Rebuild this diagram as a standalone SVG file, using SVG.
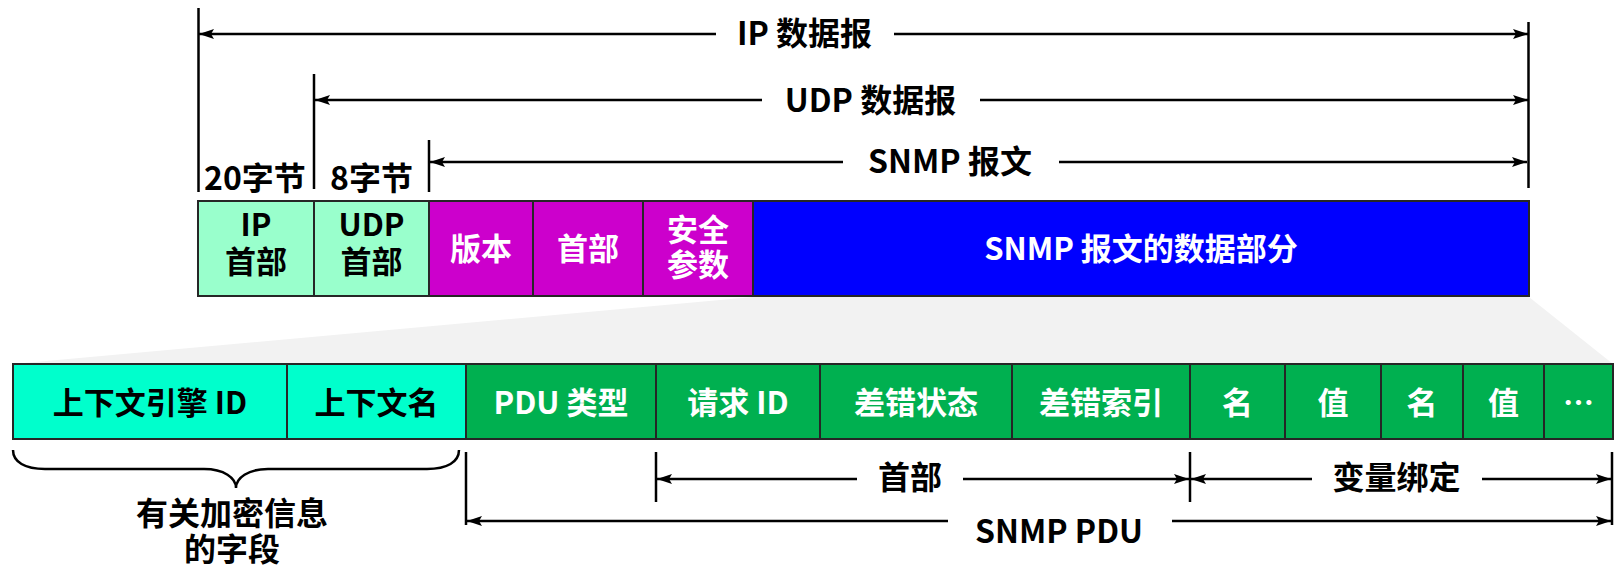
<svg xmlns="http://www.w3.org/2000/svg" width="1615" height="569" viewBox="0 0 1615 569">
<style>
text{font-family:"Noto Sans CJK SC","Noto Sans",sans-serif;font-weight:bold;text-anchor:middle}
.lbl{font-size:32px;fill:#000}
.bx{font-size:31px}
.w{fill:#fff}
.k{fill:#000}
.box{stroke:#262626;stroke-width:2}
.ln{stroke:#000;stroke-width:2.5;fill:none}
.ar{stroke:#000;stroke-width:2.5;fill:none;marker-end:url(#ah)}
.al{stroke:#000;stroke-width:2.5;fill:none;marker-start:url(#ah)}
</style>
<defs>
<marker id="ah" markerUnits="userSpaceOnUse" markerWidth="16" markerHeight="12" refX="15" refY="5" orient="auto-start-reverse">
<path d="M0,0 L15,5 L0,10 L3,5 Z" fill="#000"/>
</marker>
</defs>
<rect width="1615" height="569" fill="#fff"/>
<polygon points="753,297 1529,297 1613,364 13,364" fill="#f2f2f2"/>

<g id="top-row">
<g id="ip-header"><rect class="box" x="198" y="201" width="116" height="95" fill="#99ffcc"/><text class="bx k" x="256" y="236">IP</text><text class="bx k" x="256" y="273">首部</text></g>
<g id="udp-header"><rect class="box" x="314" y="201" width="115" height="95" fill="#99ffcc"/><text class="bx k" x="371.5" y="236">UDP</text><text class="bx k" x="371.5" y="273">首部</text></g>
<g id="version"><rect class="box" x="429" y="201" width="104" height="95" fill="#cc00cc"/><text class="bx w" x="481" y="260">版本</text></g>
<g id="header"><rect class="box" x="533" y="201" width="110" height="95" fill="#cc00cc"/><text class="bx w" x="588" y="260">首部</text></g>
<g id="security"><rect class="box" x="643" y="201" width="110" height="95" fill="#cc00cc"/><text class="bx w" x="698" y="241">安全</text><text class="bx w" x="698" y="276">参数</text></g>
<g id="snmp-data"><rect class="box" x="753" y="201" width="776" height="95" fill="#0000ff"/><text class="bx w" x="1141" y="260">SNMP 报文的数据部分</text></g>
</g>

<g id="bottom-row">
<g id="ctx-engine"><rect class="box" x="13" y="364" width="274" height="75" fill="#00ffcc"/><text class="bx k" x="150" y="413.5">上下文引擎 ID</text></g>
<g id="ctx-name"><rect class="box" x="287" y="364" width="179" height="75" fill="#00ffcc"/><text class="bx k" x="376.5" y="413.5">上下文名</text></g>
<g id="pdu-type"><rect class="box" x="466" y="364" width="190" height="75" fill="#00b050"/><text class="bx w" x="561" y="413.5">PDU 类型</text></g>
<g id="req-id"><rect class="box" x="656" y="364" width="164" height="75" fill="#00b050"/><text class="bx w" x="738" y="413.5">请求 ID</text></g>
<g id="err-status"><rect class="box" x="820" y="364" width="192" height="75" fill="#00b050"/><text class="bx w" x="916" y="413.5">差错状态</text></g>
<g id="err-index"><rect class="box" x="1012" y="364" width="178" height="75" fill="#00b050"/><text class="bx w" x="1101" y="413.5">差错索引</text></g>
<g id="name1"><rect class="box" x="1190" y="364" width="95" height="75" fill="#00b050"/><text class="bx w" x="1237.5" y="413.5">名</text></g>
<g id="value1"><rect class="box" x="1285" y="364" width="96" height="75" fill="#00b050"/><text class="bx w" x="1333" y="413.5">值</text></g>
<g id="name2"><rect class="box" x="1381" y="364" width="82" height="75" fill="#00b050"/><text class="bx w" x="1422" y="413.5">名</text></g>
<g id="value2"><rect class="box" x="1463" y="364" width="81" height="75" fill="#00b050"/><text class="bx w" x="1503.5" y="413.5">值</text></g>
<g id="more"><rect class="box" x="1544" y="364" width="69" height="75" fill="#00b050"/><text class="bx w" x="1578.5" y="413.5">…</text></g>
</g>

<g id="connectors">
<line class="ln" x1="198.5" y1="8" x2="198.5" y2="192"/>
<line class="ln" x1="314" y1="74" x2="314" y2="189"/>
<line class="ln" x1="429" y1="140" x2="429" y2="192"/>
<line class="ln" x1="1528.5" y1="22" x2="1528.5" y2="188"/>
<line class="al" x1="199" y1="34" x2="716" y2="34"/>
<line class="ar" x1="894" y1="34" x2="1528" y2="34"/>
<line class="al" x1="315" y1="100" x2="762" y2="100"/>
<line class="ar" x1="980" y1="100" x2="1528" y2="100"/>
<line class="al" x1="430" y1="162" x2="843" y2="162"/>
<line class="ar" x1="1059" y1="162" x2="1527" y2="162"/>

<line class="ln" x1="466" y1="452" x2="466" y2="525"/>
<line class="ln" x1="656" y1="452" x2="656" y2="502"/>
<line class="ln" x1="1190" y1="452" x2="1190" y2="502"/>
<line class="ln" x1="1612" y1="452" x2="1612" y2="525"/>
<line class="al" x1="657" y1="479" x2="857" y2="479"/>
<line class="ar" x1="963" y1="479" x2="1189" y2="479"/>
<line class="al" x1="1191" y1="479" x2="1312" y2="479"/>
<line class="ar" x1="1482" y1="479" x2="1611" y2="479"/>
<line class="al" x1="467" y1="521" x2="948" y2="521"/>
<line class="ar" x1="1172" y1="521" x2="1611" y2="521"/>
<path class="ln" d="M13,450 C13,462 25,469 45,469 L204,469 C224,469 236,478 236,488 C236,478 248,469 268,469 L427,469 C447,469 459,462 459,450"/>
</g>

<g id="labels">
<text class="lbl" x="804.5" y="45">IP 数据报</text>
<text class="lbl" x="870.5" y="112">UDP 数据报</text>
<text class="lbl" x="950" y="173">SNMP 报文</text>
<text class="lbl" x="255" y="189.5">20字节</text>
<text class="lbl" x="371.5" y="189.5">8字节</text>
<text class="lbl" x="910" y="489">首部</text>
<text class="lbl" x="1396.5" y="489">变量绑定</text>
<text class="lbl" x="1059" y="543">SNMP PDU</text>
<text class="lbl" x="232" y="525">有关加密信息</text>
<text class="lbl" x="232" y="561">的字段</text>
</g>
</svg>
